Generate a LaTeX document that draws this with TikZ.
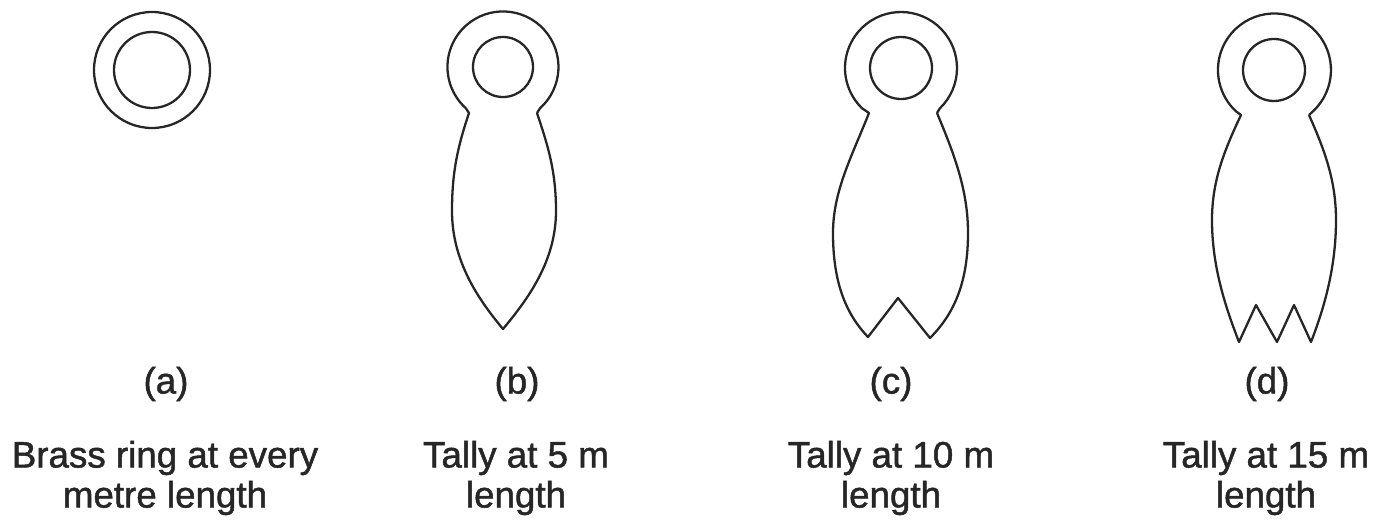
\documentclass[tikz,border=0pt]{standalone}
\usepackage{fontspec}
\newfontfamily\capfont[FakeBold=1.3]{Liberation Sans}
\begin{document}
\begin{tikzpicture}[x=0.01cm,y=0.01cm,
    outline/.style={draw=black!85,line width=0.65pt,line join=round},
    caption/.style={font=\capfont\fontsize{10.45}{11.2}\selectfont,text=black!85,inner sep=0pt}]
  \useasboundingbox (0,0) rectangle (1378,521);
  % ring
  \draw[outline] (152,451) circle (58);
  \draw[outline] (152,451) circle (38);
  % 5 m
  \draw[outline] (503,454) circle (30);
  \draw[outline] (537,408) -- (540.1,412.8) arc[start angle=-48,end angle=228,radius=55.5]
    -- (469,408)
    .. controls (458,375) and (452,350) .. (452,310)
    .. controls (452,260) and (478,222) .. (503,192)
    .. controls (528,222) and (556,260) .. (556,310)
    .. controls (556,350) and (548,375) .. (537,408);
  % 10 m
  \draw[outline] (901,453) circle (31);
  \draw[outline] (937,408) -- (939.9,412.7) arc[start angle=-46,end angle=226,radius=56]
    -- (869,408)
    .. controls (852,365) and (833,330) .. (833,288)
    .. controls (833,240) and (845,208) .. (868,184)
    -- (898,223) -- (930,183)
    .. controls (955,208) and (968,240) .. (968,288)
    .. controls (968,330) and (955,365) .. (937,408);
  % 15 m
  \draw[outline] (1274,451) circle (31);
  \draw[outline] (1309,406) -- (1313,409.7) arc[start angle=-47,end angle=227,radius=56.5]
    -- (1241,406)
    .. controls (1224,370) and (1212,340) .. (1212,301)
    .. controls (1212,255) and (1225,215) .. (1239,179)
    -- (1256,216) -- (1277,179) -- (1294,216) -- (1311,179)
    .. controls (1325,215) and (1336,255) .. (1336,301)
    .. controls (1336,340) and (1325,370) .. (1309,406);
  \node[caption] (labela) at (166,137) {(a)};
  \node[caption] (labelb) at (517,137) {(b)};
  \node[caption] (labelc) at (891,137) {(c)};
  \node[caption] (labeld) at (1267,137) {(d)};
  \node[caption] (ringtop) at (165,63) {Brass ring at every};
  \node[caption] (ringbot) at (165,23) {metre length};
  \node[caption] (fivetop) at (516,63) {Tally at 5 m};
  \node[caption] (fivebot) at (516,23) {length};
  \node[caption] (tentop) at (891,63) {Tally at 10 m};
  \node[caption] (tenbot) at (891,23) {length};
  \node[caption] (fifteentop) at (1266,63) {Tally at 15 m};
  \node[caption] (fifteenbot) at (1266,23) {length};
\end{tikzpicture}
\end{document}
